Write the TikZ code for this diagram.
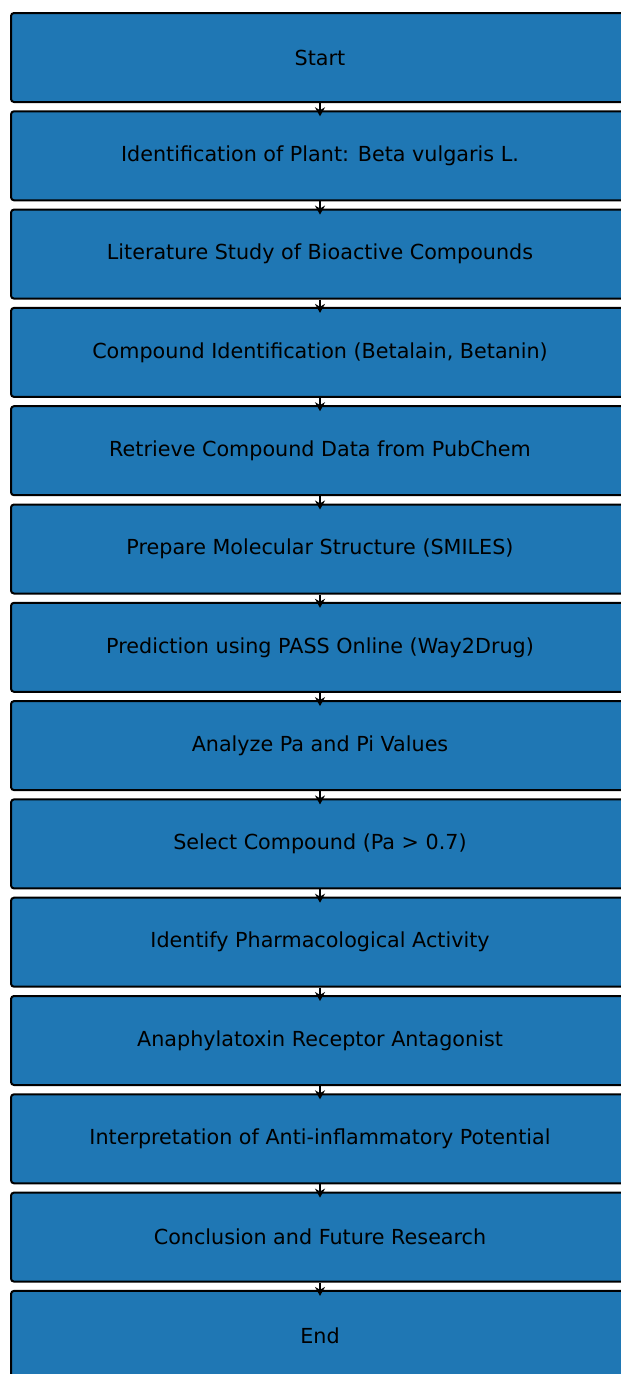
\documentclass[tikz,border=0pt]{standalone}
\usepackage{fontspec}
\setmainfont{DejaVu Sans}
\usetikzlibrary{positioning,arrows.meta}

\definecolor{stepblue}{HTML}{1F77B4}

\tikzset{
    stepbox/.style={rectangle, draw=black, line width=2pt, fill=stepblue,
        rounded corners=3pt, minimum width=618pt, minimum height=89pt,
        font=\fontsize{20.7}{24}\selectfont, text=black},
    flow/.style={-{Stealth[length=9pt,width=10pt]}, line width=1.5pt, shorten >=-6pt}
}

\begin{document}
\begin{tikzpicture}[x=1pt, y=1pt, node distance=7.3pt]
        % page frame
        \useasboundingbox (0,0) rectangle (621,-1374);
        \clip (0,0) rectangle (621,-1374);

        % steps
        \node[stepbox] (s1) at (320,-57.5) {Start};
        \node[stepbox, below=of s1] (s2) {Identification of Plant: Beta vulgaris L.};
        \node[stepbox, below=of s2] (s3) {Literature Study of Bioactive Compounds};
        \node[stepbox, below=of s3] (s4) {Compound Identification (Betalain, Betanin)};
        \node[stepbox, below=of s4] (s5) {Retrieve Compound Data from PubChem};
        \node[stepbox, below=of s5] (s6) {Prepare Molecular Structure (SMILES)};
        \node[stepbox, below=of s6] (s7) {Prediction using PASS Online (Way2Drug)};
        \node[stepbox, below=of s7] (s8) {Analyze Pa and Pi Values};
        \node[stepbox, below=of s8] (s9) {Select Compound (Pa > 0.7)};
        \node[stepbox, below=of s9] (s10) {Identify Pharmacological Activity};
        \node[stepbox, below=of s10] (s11) {Anaphylatoxin Receptor Antagonist};
        \node[stepbox, below=of s11] (s12) {Interpretation of Anti-inflammatory Potential};
        \node[stepbox, below=of s12] (s13) {Conclusion and Future Research};
        \node[stepbox, below=of s13] (s14) {End};

        % arrows
        \foreach \a/\b in {s1/s2,s2/s3,s3/s4,s4/s5,s5/s6,s6/s7,s7/s8,s8/s9,s9/s10,s10/s11,s11/s12,s12/s13,s13/s14}
            \draw[flow] (\a.south) -- (\b.north);
    \end{tikzpicture}
\end{document}
